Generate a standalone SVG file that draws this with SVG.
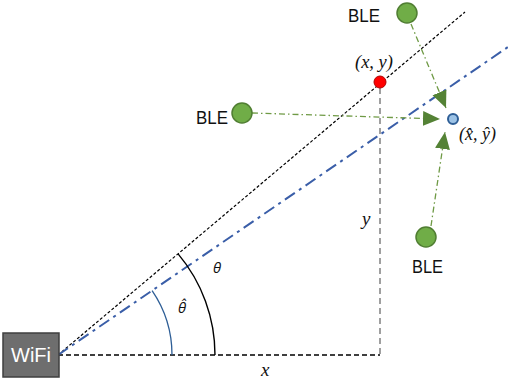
<svg xmlns="http://www.w3.org/2000/svg" width="508" height="385" viewBox="0 0 508 385">
<style>
.ble{font-family:"Liberation Sans",Arial,sans-serif;font-size:19px;fill:#111}
.math{font-family:"Liberation Serif","DejaVu Serif",serif;font-style:italic;fill:#111}
.greek{font-family:"Open Sans","Lato",sans-serif;font-style:italic;font-size:15px;fill:#111}
.bledot{fill:#70ad47;stroke:#507e32;stroke-width:1.5}
.garrow{stroke:#6f9a45;stroke-width:1.3;stroke-dasharray:6 3 1.5 3;fill:none;marker-end:url(#ah)}
</style>
<defs>
<marker id="ah" markerUnits="userSpaceOnUse" markerWidth="18" markerHeight="16" refX="17" refY="7.5" orient="auto" viewBox="0 0 18 15">
<path d="M0,0 L17,7.5 L0,15 z" fill="#548235"/>
</marker>
</defs>
<g id="geometry">
<line x1="380" y1="88" x2="380" y2="355" stroke="#808080" stroke-width="1.5" stroke-dasharray="6 4"/>
<line x1="58" y1="355" x2="380" y2="355" stroke="#000" stroke-width="1.3" stroke-dasharray="5 3"/>
<line x1="58" y1="355" x2="465" y2="12" stroke="#000" stroke-width="1.2" stroke-dasharray="3 2"/>
<line x1="58" y1="355" x2="508" y2="47" stroke="#3a5ea8" stroke-width="2" stroke-dasharray="12 5 3 5"/>
<path d="M178.1,253.9 A157,157 0 0 1 215,355" fill="none" stroke="#000" stroke-width="1.4"/>
<path d="M152.1,290.6 A114,114 0 0 1 172,355" fill="none" stroke="#2e5e96" stroke-width="1.3"/>
</g>
<g id="connectors">
<line class="garrow" x1="411" y1="24" x2="446" y2="108"/>
<line class="garrow" x1="252" y1="113" x2="440" y2="119"/>
<line class="garrow" x1="431" y1="226" x2="445" y2="132"/>
</g>
<g id="wifi">
<rect x="3" y="333" width="56" height="44" fill="#6e6e6e" stroke="#3f3f3f" stroke-width="1.5"/>
<text x="31" y="362" text-anchor="middle" font-family="'Liberation Sans',Arial,sans-serif" font-size="20" fill="#fff">WiFi</text>
</g>
<g id="ble-top">
<circle class="bledot" cx="407" cy="13" r="10"/>
<text class="ble" x="348" y="22" textLength="32" lengthAdjust="spacingAndGlyphs">BLE</text>
</g>
<g id="ble-left">
<circle class="bledot" cx="242" cy="113" r="10"/>
<text class="ble" x="196" y="124" textLength="32" lengthAdjust="spacingAndGlyphs">BLE</text>
</g>
<g id="ble-bottom">
<circle class="bledot" cx="426" cy="237" r="10"/>
<text class="ble" x="412" y="273" textLength="31" lengthAdjust="spacingAndGlyphs">BLE</text>
</g>
<g id="true-pos">
<circle cx="380" cy="82" r="6" fill="#ff0000" stroke="#b00000" stroke-width="1"/>
<text class="math" x="355" y="68" font-size="18" textLength="38" lengthAdjust="spacingAndGlyphs">(x, y)</text>
</g>
<g id="est-pos">
<circle cx="453" cy="119" r="5" fill="#9dc3e6" stroke="#2e5e96" stroke-width="2"/>
<text class="math" x="459" y="140" font-size="18">(x̂, ŷ)</text>
</g>
<g id="labels">
<text class="math" x="362" y="225" font-size="19">y</text>
<text class="math" x="261" y="376" font-size="19">x</text>
<text class="greek" x="213" y="273">θ</text>
<text class="greek" x="178" y="313">θ̂</text>
</g>
</svg>
